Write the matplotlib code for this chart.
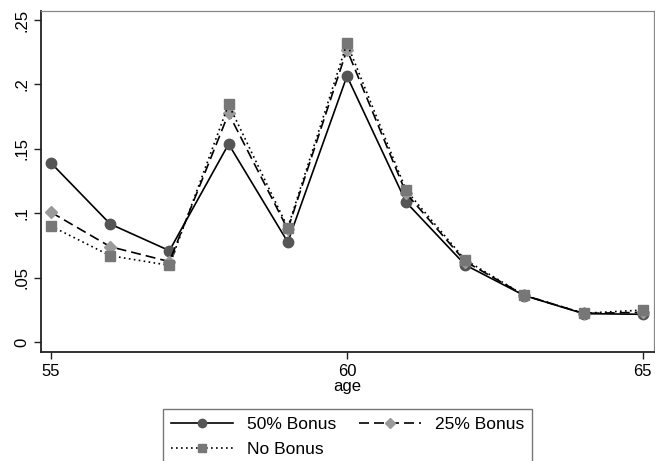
import matplotlib
matplotlib.use("Agg")
import matplotlib.pyplot as plt

plt.rcParams['font.family'] = ['Liberation Sans', 'DejaVu Sans']

# data
age = [55, 56, 57, 58, 59, 60, 61, 62, 63, 64, 65]
bonus50 = [0.139, 0.0916, 0.0709, 0.1537, 0.0776, 0.2065, 0.1085, 0.0598, 0.0360, 0.0220, 0.0215]
bonus25 = [0.1007, 0.0740, 0.0624, 0.1775, 0.0875, 0.2270, 0.1155, 0.0625, 0.0362, 0.0222, 0.0230]
nobonus = [0.0900, 0.0670, 0.0595, 0.1845, 0.0888, 0.2320, 0.1178, 0.0637, 0.0362, 0.0223, 0.0248]
yticks = [0, 0.05, 0.1, 0.15, 0.2, 0.25]
ylabels = ['0', '.05', '.1', '.15', '.2', '.25']

fig = plt.figure(figsize=(6.55, 4.61), dpi=100)
ax = fig.add_axes([0.0626, 0.2364, 0.936, 0.7396])

l1, = ax.plot(age, bonus50, color='black', lw=1.2, ls='-', marker='o', ms=7.5,
              mfc='#555555', mec='#555555', label='50% Bonus')
l2, = ax.plot(age, bonus25, color='black', lw=1.2, ls=(0, (6, 3)), marker='D', ms=6.5,
              mfc='#9a9a9a', mec='#9a9a9a', label='25% Bonus')
l3, = ax.plot(age, nobonus, color='black', lw=1.2, ls=(0, (1, 2)), marker='s', ms=7.5,
              mfc='#777777', mec='#777777', label='No Bonus')

ax.set_xlim(54.83, 65.19)
ax.set_ylim(-0.0078, 0.257)
ax.set_xticks([55, 60, 65])
ax.set_yticks(yticks)
ax.set_yticklabels(ylabels, rotation=90, va='center')
ax.tick_params(labelsize=12, length=5, width=1, color='#222222')
ax.set_xlabel('age', fontsize=12, labelpad=0)

for s in ['left', 'bottom']:
    ax.spines[s].set_linewidth(1.3)
    ax.spines[s].set_color('#222222')
for s in ['top', 'right']:
    ax.spines[s].set_linewidth(0.9)
    ax.spines[s].set_color('#888888')

# column-major fill: 50% and No Bonus in column 1, 25% in column 2
fig.legend([l1, l3, l2], ['50% Bonus', 'No Bonus', '25% Bonus'],
           loc='upper left', bbox_to_anchor=(162.7 / 655, 1 - 409 / 461),
           borderaxespad=0, ncol=2, fontsize=12.5, handlelength=3.6, markerscale=0.8,
           frameon=True, fancybox=False, edgecolor='#555555', borderpad=0.45,
           labelspacing=0.55, columnspacing=1.3, handletextpad=0.8)

fig.savefig('out.png', dpi=100)
